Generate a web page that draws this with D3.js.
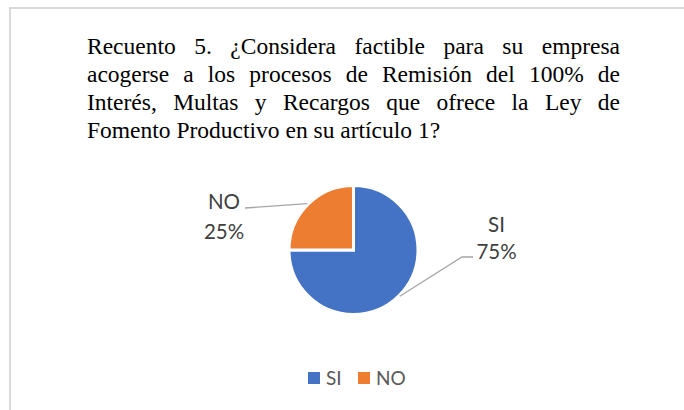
<!DOCTYPE html>
<html>
<head>
<meta charset="utf-8">
<script src="https://cdn.jsdelivr.net/npm/d3@7"></script>
<style>
  body { margin: 0; background: #fff; }
  svg { display: block; }
</style>
</head>
<body>
<svg id="chart" width="684" height="410"></svg>
<script>
// chart data
const categories = ['SI', 'NO'];
const values = [75, 25];
const colors = ['#4472C4', '#ED7D31'];
const titleLines = [
    'Recuento 5. ¿Considera factible para su empresa',
    'acogerse a los procesos de Remisión del 100% de',
    'Interés, Multas y Recargos que ofrece la Ley de',
    'Fomento Productivo en su artículo 1?'
];

const svg = d3.select('#chart');

// light frame of the chart area
svg.append('rect')
    .attr('x', 10).attr('y', 8)
    .attr('width', 720).attr('height', 440)
    .attr('fill', 'none')
    .attr('stroke', '#d9d9d9')
    .attr('stroke-width', 2);

// Title, justified except the last line
const titleLeft = 87, titleRight = 620, titleTop = 53.5, lineGap = 28;
const titleSize = 23.5;
titleLines.forEach((line, i) => {
    const words = line.split(' ');
    const g = svg.append('g');
    const y = titleTop + i * lineGap;
    const nodes = words.map((w) => g.append('text')
        .attr('y', y)
        .attr('font-family', '"Liberation Serif", "Times New Roman", serif')
        .attr('font-size', titleSize)
        .attr('fill', '#000')
        .text(w));
    const widths = nodes.map((n) => n.node().getComputedTextLength());
    const total = d3.sum(widths);
    const last = i === titleLines.length - 1;
    const gap = last ? titleSize * 0.25 : (titleRight - titleLeft - total) / (words.length - 1);
    let x = titleLeft;
    nodes.forEach((n, j) => {
        n.attr('x', x);
        x += widths[j] + gap;
    });
});

// Pie
const cx = 353.5, cy = 250, radius = 64.5;
const pie = d3.pie().sort(null);
const arcsData = pie(values);
const g = svg.append('g').attr('transform', `translate(${cx},${cy})`);
const arc = d3.arc().innerRadius(0).outerRadius(radius);

g.selectAll('path')
    .data(arcsData)
    .enter()
    .append('path')
    .attr('d', arc)
    .attr('fill', (d, i) => colors[i])
    .attr('stroke', '#fff')
    .attr('stroke-width', 3)
    .attr('stroke-linejoin', 'miter');

// Data labels with leader lines
const outerPoint = (d, r) => {
    const a = (d.startAngle + d.endAngle) / 2;
    return [r * Math.sin(a), -r * Math.cos(a)];
};
const labelFont = 'Lato, "Open Sans", sans-serif';
const labelSpecs = [
    { elbow: [108.5, 7], end: [119.5, 7], tx: 143, ty: [-18, 9] }, // SI
    { elbow: [-108.5, -42], end: [-108.5, -42], tx: -129.5, ty: [-41, -11] } // NO
];
arcsData.forEach((d, i) => {
    const spec = labelSpecs[i];
    const p0 = outerPoint(d, 65.5);
    g.append('polyline')
        .attr('points', [p0, spec.elbow, spec.end].map((p) => p.join(',')).join(' '))
        .attr('fill', 'none')
        .attr('stroke', '#a6a6a6')
        .attr('stroke-width', 1.3);
    const pct = Math.round(d.data / d3.sum(values) * 100) + '%';
    [categories[i], pct].forEach((t, k) => {
        g.append('text')
            .attr('x', spec.tx)
            .attr('y', spec.ty[k])
            .attr('text-anchor', 'middle')
            .attr('font-family', labelFont)
            .attr('font-size', 20.5)
            .attr('fill', '#404040')
            .text(t);
    });
});

// Legend
const legendX = 308, legendY = 372;
const legend = svg.append('g').attr('transform', `translate(${legendX},${legendY})`);
const legendPos = [0, 50];
categories.forEach((c, i) => {
    legend.append('rect')
        .attr('x', legendPos[i]).attr('y', 0)
        .attr('width', 12).attr('height', 12)
        .attr('fill', colors[i]);
    legend.append('text')
        .attr('x', legendPos[i] + 18).attr('y', 13)
        .attr('font-family', labelFont)
        .attr('font-size', 19)
        .attr('fill', '#595959')
        .text(c);
});
</script>
</body>
</html>
